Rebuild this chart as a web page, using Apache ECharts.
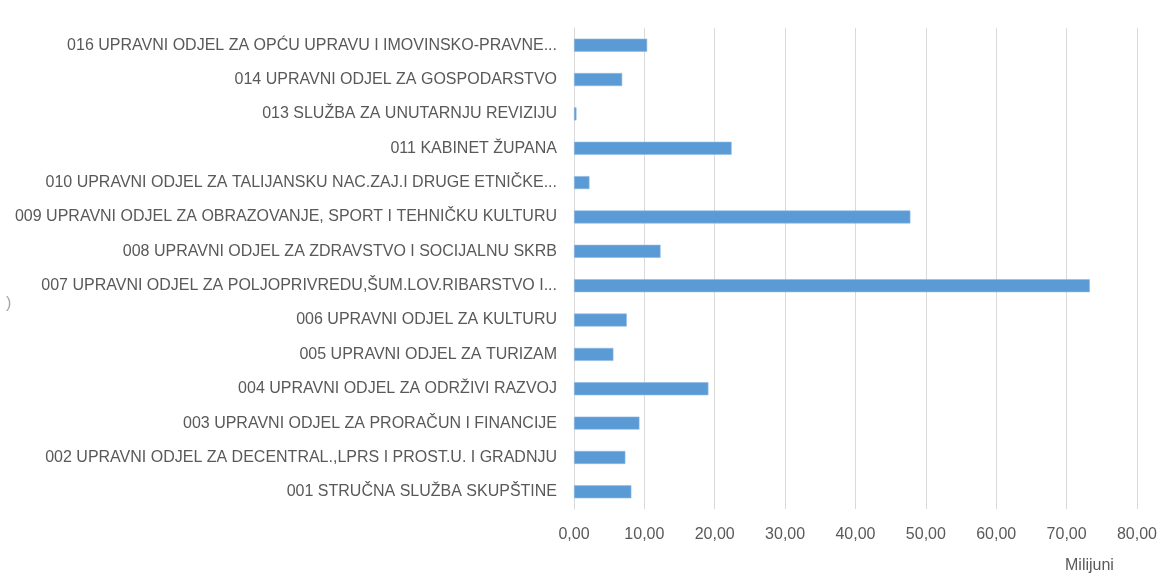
<!DOCTYPE html>
<html>
<head>
<meta charset="utf-8">
<script src="https://cdn.jsdelivr.net/npm/echarts@6/dist/echarts.min.js"></script>
<style>
  html, body { margin: 0; padding: 0; background: #fff; }
  #chart { width: 1160px; height: 576px; }
</style>
</head>
<body>
<div id="chart"></div>
<script>
// odjeli, od vrha prema dnu
const categories = [
  "016 UPRAVNI ODJEL ZA OPĆU UPRAVU I IMOVINSKO-PRAVNE...",
  "014 UPRAVNI ODJEL ZA GOSPODARSTVO",
  "013 SLUŽBA ZA UNUTARNJU REVIZIJU",
  "011 KABINET ŽUPANA",
  "010 UPRAVNI ODJEL ZA TALIJANSKU NAC.ZAJ.I DRUGE ETNIČKE...",
  "009 UPRAVNI ODJEL ZA OBRAZOVANJE, SPORT I TEHNIČKU KULTURU",
  "008 UPRAVNI ODJEL ZA ZDRAVSTVO I SOCIJALNU SKRB",
  "007 UPRAVNI ODJEL ZA POLJOPRIVREDU,ŠUM.LOV.RIBARSTVO I...",
  "006 UPRAVNI ODJEL ZA KULTURU",
  "005 UPRAVNI ODJEL ZA TURIZAM",
  "004 UPRAVNI ODJEL ZA ODRŽIVI RAZVOJ",
  "003 UPRAVNI ODJEL ZA PRORAČUN I FINANCIJE",
  "002 UPRAVNI ODJEL ZA DECENTRAL.,LPRS I PROST.U. I GRADNJU",
  "001 STRUČNA SLUŽBA SKUPŠTINE"
]
// milijuni kn
const values = [10.4, 6.85, 0.35, 22.4, 2.2, 47.8, 12.3, 73.3, 7.5, 5.6, 19.1, 9.3, 7.3, 8.15]
const xMin = 0
const xMax = 80
const xStep = 10
const unitLabel = "Milijuni"

const textColor = "#595959"
const gridColor = "#d9d9d9"
const barColor = "#5b9bd5"
const font = "Liberation Sans"

const chart = echarts.init(document.getElementById('chart'))
chart.setOption({
  backgroundColor: "#fff",
  animation: false,
  grid: {
    left: 574,
    right: 21,
    top: 28,
    bottom: 67,
  },
  xAxis: {
    type: "value",
    min: xMin,
    max: xMax,
    interval: xStep,
    axisLine: { show: false },
    axisTick: { show: false },
    splitLine: { lineStyle: { color: gridColor, width: 1 } },
    axisLabel: {
      color: textColor,
      fontFamily: font,
      fontSize: 16,
      margin: 18,
      formatter: (v) => v.toFixed(2).replace('.', ','),
    },
  },
  yAxis: {
    type: "category",
    data: categories,
    inverse: true,
    axisTick: { show: false },
    axisLine: { lineStyle: { color: gridColor, width: 1 } },
    axisLabel: {
      color: textColor,
      fontFamily: font,
      fontSize: 16,
      margin: 17,
    },
  },
  series: [
    {
      type: "bar",
      data: values,
      barWidth: 13,
      itemStyle: {
        color: barColor,
        borderColor: "#8fbbe4",
        borderWidth: 0.6,
      },
    },
  ],
  graphic: [
    {
      type: "text",
      left: 1065,
      top: 558,
      style: {
        text: unitLabel,
        fill: textColor,
        font: "16px 'Liberation Sans'",
      },
    },
    {
      // odrezani naslov osi s lijeve strane
      type: "text",
      left: 6,
      top: 296,
      style: {
        text: ")",
        fill: "#a6a6a6",
        font: "16px 'Liberation Sans'",
      },
    },
  ],
})
</script>
</body>
</html>
